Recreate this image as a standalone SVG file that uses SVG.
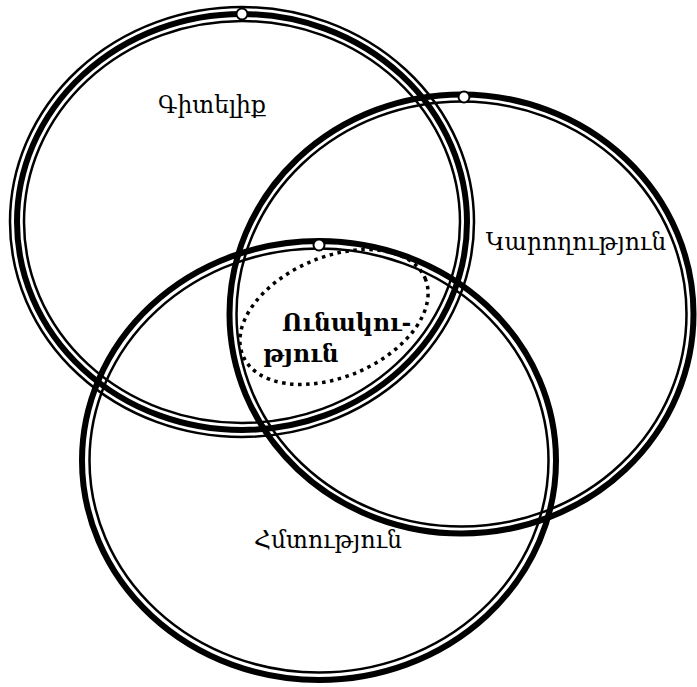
<svg xmlns="http://www.w3.org/2000/svg" width="697" height="687" viewBox="0 0 697 687">
<style>
.thin{fill:none;stroke:#000;stroke-width:2.5}
.thick{fill:none;stroke:#000;stroke-width:6}
.dot{fill:none;stroke:#000;stroke-width:3.5;stroke-dasharray:3.5 4.5}
.mark{fill:#fff;stroke:#000;stroke-width:2}
.lbl{font-family:"DejaVu Serif","Noto Sans",serif;font-size:23.5px;fill:#000}
.bold{font-weight:bold}
</style>
<rect width="697" height="687" fill="#fff"/>
<g id="gitelik">
<ellipse class="thin" cx="242" cy="222" rx="232" ry="215"/>
<ellipse class="thick" cx="242" cy="222" rx="225" ry="208"/>
<ellipse class="thin" cx="242" cy="222" rx="218" ry="201"/>
<circle class="mark" cx="242" cy="14" r="5.5"/>
<text class="lbl" x="212" y="113" text-anchor="middle">Գիտելիք</text>
</g>
<g id="karoghutyun">
<ellipse class="thick" cx="461.5" cy="314" rx="232" ry="219.5"/>
<ellipse class="thin" cx="461.5" cy="314" rx="225" ry="212.5"/>
<circle class="mark" cx="464" cy="97" r="5.5"/>
<text class="lbl" x="576" y="250" text-anchor="middle">Կարողություն</text>
</g>
<g id="hmtutyun">
<ellipse class="thick" cx="319" cy="460.5" rx="237" ry="219.5"/>
<ellipse class="thin" cx="319" cy="460.5" rx="229.5" ry="212"/>
<circle class="mark" cx="319" cy="245" r="5.5"/>
<text class="lbl" x="328" y="548" text-anchor="middle">Հմտություն</text>
</g>
<g id="unakutyun">
<ellipse class="dot" cx="334" cy="317" rx="99" ry="60" transform="rotate(-23 334 317)"/>
<text class="lbl bold" x="282" y="331">Ունակու-</text>
<text class="lbl bold" x="263" y="362">թյուն</text>
</g>
<g id="connectors"/>
</svg>
